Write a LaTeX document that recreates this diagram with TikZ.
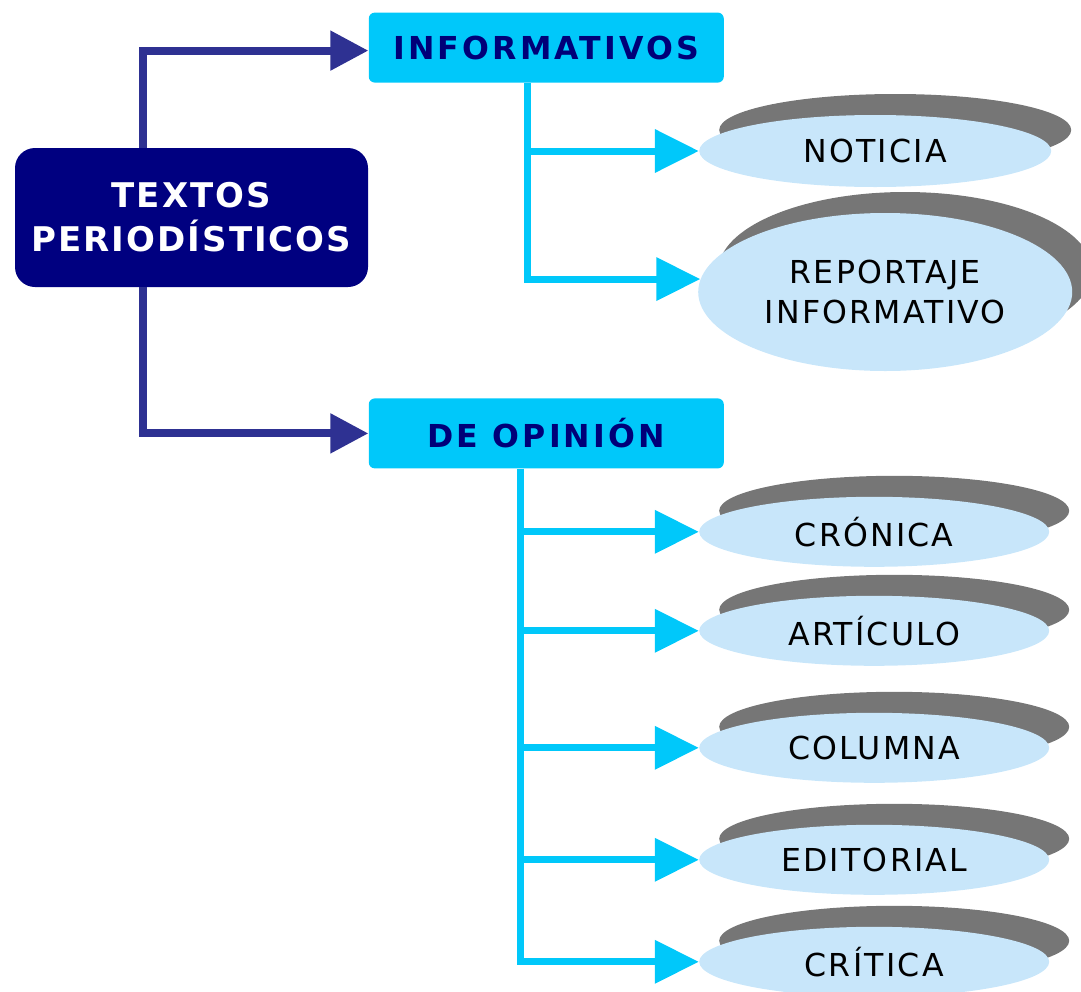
\documentclass[tikz,border=0pt]{standalone}
\usepackage{fontspec}
\setmainfont{DejaVu Sans}
\newfontfamily\leaffont[LetterSpace=7]{DejaVu Sans}
\newfontfamily\boxfont[LetterSpace=10]{DejaVu Sans}
\newfontfamily\titlefont[LetterSpace=6]{DejaVu Sans}
\usetikzlibrary{arrows.meta}
\usetikzlibrary{shadows}
\usetikzlibrary{positioning}
\usetikzlibrary{calc}
\usetikzlibrary{shapes}
\definecolor{navybox}{RGB}{0,0,128}
\definecolor{navytext}{RGB}{0,0,120}
\definecolor{darkarrow}{RGB}{46,49,146}
\definecolor{cyanbox}{RGB}{0,200,250}
\definecolor{leafblue}{RGB}{200,230,250}
\definecolor{shgray}{RGB}{118,118,118}

\begin{document}
\begin{tikzpicture}[>={Triangle[length=22pt,width=21pt]},node distance=5mm]
\tikzstyle{mainstep}=[fill=navybox,text=white,rounded corners=10pt,align=center,minimum width=176.5pt,minimum height=69.5pt,font=\titlefont\bfseries\fontsize{17pt}{22pt}\selectfont]
\tikzstyle{catstep}=[fill=cyanbox,text=navytext,rounded corners=3pt,minimum width=177.5pt,minimum height=35pt,font=\boxfont\bfseries\fontsize{15.8pt}{19pt}\selectfont]
\tikzstyle{leafstep}=[ellipse,fill=leafblue,inner sep=0pt,align=center,minimum width=176pt,minimum height=36pt,font=\leaffont\fontsize{15.8pt}{20pt}\selectfont,drop shadow={shadow xshift=10pt,shadow yshift=10.5pt,fill=shgray,opacity=1}]
\tikzstyle{darr}=[-{Triangle[length=19pt,width=19pt]},color=darkarrow,line width=4pt]
\tikzstyle{carr}=[->,color=cyanbox,line width=3.5pt]

\useasboundingbox (0,0) rectangle (540.5pt,-495.5pt);

\node[mainstep] (tps) at (95.75pt,-108.75pt) {TEXTOS\\PERIODÍSTICOS};
\node[catstep,anchor=west] (info) at ($(tps.north east)+(0,50pt)$) {INFORMATIVOS};
\node[catstep,anchor=west] (opin) at ($(tps.south east)+(0,-73pt)$) {DE OPINIÓN};
\draw[darr] ($(tps.north)+(-24.25pt,0)$) |- ($(info.west)+(0,-1.5pt)$);
\draw[darr] ($(tps.south)+(-24.25pt,0)$) |- (opin.west);

% informativos
\node[leafstep,anchor=west] (noti) at ($(info.south)+(76.25pt,-34pt)$) {NOTICIA};
\node[leafstep,anchor=west,minimum width=187pt,minimum height=79pt] (rep) at ($(noti.west)+(-0.5pt,-70.5pt)$) {REPORTAJE\\INFORMATIVO};
\coordinate (itrunk) at ($(info.south)+(-9.25pt,0)$);
\draw[carr] (itrunk) |- (noti.west);
\draw[carr] (itrunk) |- (rep.176);

% de opinion
\node[leafstep,anchor=west,minimum width=175pt,minimum height=35pt] (cron) at ($(opin.south)+(76.25pt,-31.5pt)$) {CRÓNICA};
\node[leafstep,anchor=west,minimum width=175pt,minimum height=35pt] (arti) at ($(cron.west)+(0,-49.5pt)$) {ARTÍCULO};
\node[leafstep,anchor=west,minimum width=175pt,minimum height=35pt] (colu) at ($(arti.west)+(0,-58.5pt)$) {COLUMNA};
\node[leafstep,anchor=west,minimum width=175pt,minimum height=35pt] (edit) at ($(colu.west)+(0,-56pt)$) {EDITORIAL};
\node[leafstep,anchor=west,minimum width=175pt,minimum height=35pt] (crit) at ($(edit.west)+(0,-51pt)$) {CRÍTICA};
\coordinate (otrunk) at ($(opin.south)+(-12.75pt,0)$);
\draw[carr] (otrunk) |- (cron.west);
\draw[carr] (otrunk) |- (arti.west);
\draw[carr] (otrunk) |- (colu.west);
\draw[carr] (otrunk) |- (edit.west);
\draw[carr] (otrunk) |- (crit.west);
\end{tikzpicture}
\end{document}
